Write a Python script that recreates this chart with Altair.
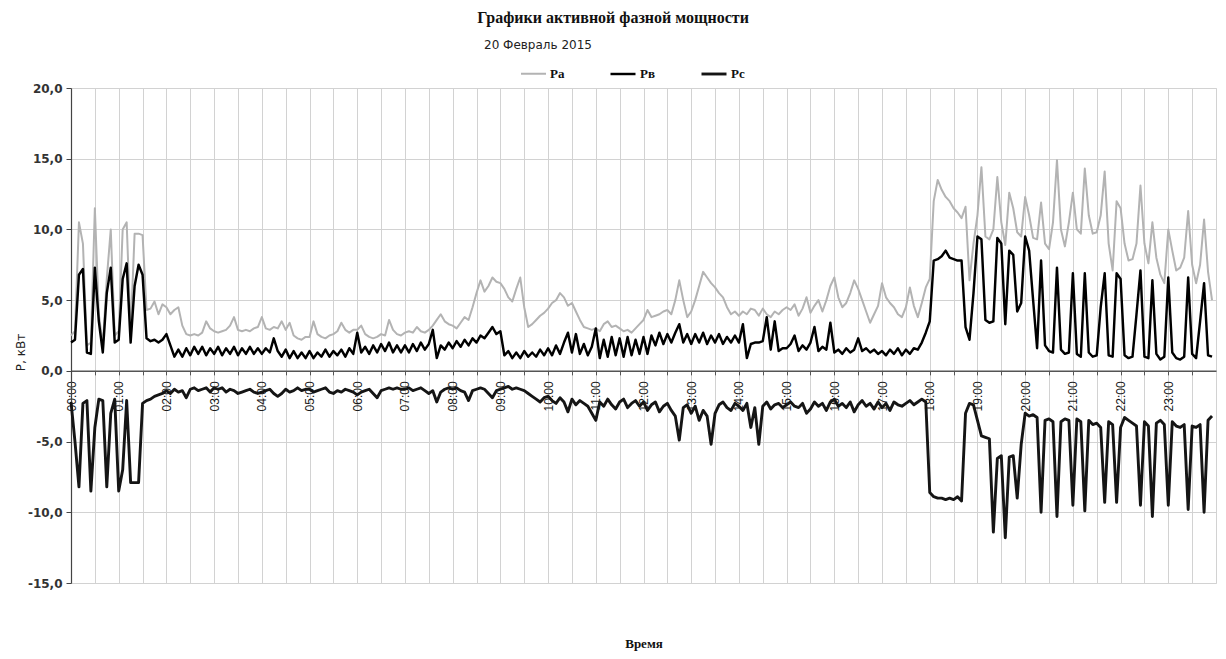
import altair as alt
import pandas as pd

SERIES = ["Pa", "Pв", "Pc"]
COLORS = ["#b3b3b3", "#000000", "#151515"]
STEP_MIN = 5  # one reading every 5 minutes, 12 per hour row

# Pa, kW (grey) - one row per hour
pa_hourly = [
    [2.5, 2.8, 10.5, 9.0, 1.8, 2.0, 11.5, 4.0, 1.8, 6.5, 10.0, 2.5],
    [2.8, 10.0, 10.5, 2.8, 9.7, 9.7, 9.6, 4.3, 4.4, 4.9, 4.0, 4.7],
    [4.5, 4.0, 4.3, 4.5, 3.2, 2.6, 2.5, 2.6, 2.5, 2.7, 3.5, 3.0],
    [2.8, 2.7, 2.8, 2.9, 3.2, 3.8, 2.9, 2.8, 2.9, 2.8, 3.0, 3.1],
    [3.8, 3.0, 2.9, 3.1, 3.0, 3.5, 2.9, 3.4, 2.5, 2.3, 2.2, 2.4],
    [2.4, 3.5, 2.6, 2.4, 2.3, 2.5, 2.6, 2.8, 3.4, 2.9, 2.7, 2.9],
    [2.9, 3.2, 2.6, 2.4, 2.3, 2.4, 2.6, 2.5, 3.6, 2.9, 2.6, 2.5],
    [2.7, 2.8, 2.7, 3.1, 2.8, 2.7, 2.9, 3.2, 3.6, 4.0, 3.5, 3.3],
    [3.2, 3.0, 3.4, 3.8, 3.6, 4.5, 5.5, 6.4, 5.6, 6.0, 6.6, 6.3],
    [6.2, 5.8, 5.2, 4.9, 5.8, 6.6, 4.5, 3.1, 3.3, 3.6, 3.9, 4.1],
    [4.4, 4.8, 5.0, 5.5, 5.2, 4.6, 4.8, 4.2, 3.6, 3.1, 3.0, 2.9],
    [3.0, 2.8, 3.3, 3.5, 3.1, 3.2, 3.0, 2.8, 2.9, 2.7, 3.0, 3.3],
    [3.6, 4.3, 3.8, 3.9, 4.0, 4.2, 4.3, 4.0, 5.0, 6.4, 5.0, 3.8],
    [4.2, 5.0, 6.0, 7.0, 6.6, 6.2, 5.9, 5.5, 5.2, 4.5, 4.0, 4.2],
    [3.9, 4.2, 4.0, 4.4, 4.3, 3.9, 4.4, 4.0, 3.8, 4.2, 4.0, 4.3],
    [4.5, 4.3, 4.7, 3.9, 4.4, 5.2, 4.1, 4.6, 5.0, 4.2, 5.0, 6.0],
    [6.6, 5.2, 4.5, 4.8, 5.5, 6.4, 5.8, 5.0, 4.2, 3.4, 4.0, 4.6],
    [6.2, 5.2, 4.8, 4.5, 4.0, 3.8, 4.5, 5.9, 4.6, 3.8, 4.8, 5.9],
    [6.5, 12.0, 13.5, 12.8, 12.3, 12.0, 11.5, 11.2, 10.8, 11.6, 6.4, 9.0],
    [11.0, 14.4, 9.5, 9.3, 10.0, 13.7, 10.5, 8.9, 12.6, 11.5, 9.8, 9.5],
    [12.3, 11.0, 9.4, 9.3, 11.9, 9.0, 8.6, 10.5, 14.9, 10.0, 8.8, 10.5],
    [12.6, 10.0, 9.7, 14.3, 11.0, 9.7, 9.8, 11.0, 14.1, 9.0, 7.1, 12.0],
    [11.5, 9.0, 7.8, 7.9, 9.0, 13.1, 9.0, 7.6, 10.5, 8.0, 6.8, 6.2],
    [10.0, 8.5, 7.1, 7.3, 8.0, 11.3, 7.5, 6.2, 7.5, 10.7, 7.0, 5.0],
]

# Pв, kW (black, positive)
pb_hourly = [
    [2.0, 2.2, 6.8, 7.2, 1.3, 1.2, 7.3, 3.5, 1.3, 5.5, 7.3, 2.0],
    [2.2, 6.5, 7.6, 2.0, 6.0, 7.5, 6.8, 2.3, 2.1, 2.2, 2.0, 2.2],
    [2.6, 1.8, 1.0, 1.5, 1.0, 1.6, 1.1, 1.7, 1.2, 1.7, 1.1, 1.6],
    [1.2, 1.7, 1.1, 1.6, 1.2, 1.7, 1.1, 1.6, 1.2, 1.7, 1.2, 1.6],
    [1.2, 1.6, 1.3, 2.3, 1.4, 1.0, 1.5, 0.9, 1.4, 0.9, 1.3, 0.9],
    [1.4, 0.9, 1.3, 1.0, 1.5, 1.0, 1.4, 1.1, 1.5, 1.0, 1.6, 1.2],
    [2.7, 1.3, 1.7, 1.2, 1.8, 1.3, 1.9, 1.4, 2.0, 1.3, 1.8, 1.3],
    [1.8, 1.3, 1.9, 1.4, 2.0, 1.5, 1.9, 2.9, 0.9, 1.8, 1.5, 2.0],
    [1.6, 2.1, 1.7, 2.2, 1.8, 2.3, 2.0, 2.5, 2.3, 2.7, 3.1, 2.6],
    [2.8, 1.1, 1.4, 0.9, 1.3, 0.9, 1.4, 1.0, 1.3, 1.0, 1.5, 1.1],
    [1.6, 1.1, 1.8, 1.2, 2.0, 2.7, 1.3, 2.6, 1.2, 1.9, 1.1, 1.7],
    [3.0, 0.9, 2.2, 1.0, 2.4, 1.1, 2.3, 1.0, 2.4, 1.1, 2.2, 1.2],
    [2.4, 1.2, 2.5, 1.8, 2.7, 1.9, 2.6, 2.0, 2.7, 3.3, 2.0, 2.6],
    [1.9, 2.6, 2.0, 2.7, 1.9, 2.5, 2.0, 2.6, 1.9, 2.4, 2.0, 2.5],
    [2.0, 3.3, 0.9, 1.9, 2.0, 2.0, 2.1, 3.8, 1.5, 3.5, 1.4, 1.6],
    [1.6, 1.9, 2.5, 1.4, 1.8, 1.5, 2.0, 3.1, 1.4, 1.7, 1.5, 3.4],
    [1.3, 1.5, 1.2, 1.6, 1.3, 1.5, 2.3, 1.4, 1.6, 1.3, 1.5, 1.2],
    [1.4, 1.1, 1.5, 1.2, 1.6, 1.1, 1.5, 1.2, 1.6, 1.5, 2.0, 2.7],
    [3.5, 7.8, 7.9, 8.1, 8.5, 8.0, 7.9, 7.8, 7.8, 3.1, 2.2, 5.5],
    [9.5, 9.3, 3.6, 3.4, 3.5, 9.4, 9.0, 3.3, 8.5, 8.2, 4.2, 4.8],
    [9.5, 8.5, 5.0, 1.6, 7.8, 1.8, 1.4, 1.3, 7.3, 1.5, 1.2, 1.3],
    [6.9, 1.2, 1.0, 6.9, 1.3, 1.0, 1.1, 4.5, 6.9, 1.1, 1.0, 6.9],
    [6.5, 1.1, 0.9, 1.0, 4.0, 7.1, 1.0, 0.9, 6.4, 1.2, 0.8, 1.0],
    [6.6, 1.3, 0.9, 0.8, 1.0, 6.6, 1.2, 0.9, 3.5, 6.2, 1.1, 1.0],
]

# Pc, kW (black, negative)
pc_hourly = [
    [-2.2, -5.0, -8.2, -2.3, -2.1, -8.5, -4.0, -2.0, -2.1, -8.2, -3.0, -2.0],
    [-8.5, -7.0, -2.1, -7.9, -7.9, -7.9, -2.3, -2.1, -2.0, -1.8, -1.7, -1.6],
    [-1.4, -1.6, -1.3, -1.5, -1.4, -1.9, -1.3, -1.2, -1.4, -1.3, -1.2, -1.5],
    [-1.2, -1.3, -1.2, -1.5, -1.3, -1.4, -1.6, -1.5, -1.4, -1.3, -1.5, -1.6],
    [-1.5, -1.4, -1.3, -1.6, -1.8, -1.6, -1.3, -1.5, -1.4, -1.2, -1.4, -1.3],
    [-1.3, -1.5, -1.4, -1.3, -1.2, -1.5, -1.6, -1.4, -1.5, -1.3, -1.4, -1.5],
    [-1.7, -1.5, -1.4, -1.3, -1.6, -1.9, -1.4, -1.3, -1.2, -1.3, -1.2, -1.3],
    [-1.3, -1.2, -1.4, -1.3, -1.2, -1.4, -1.6, -1.4, -2.2, -1.5, -1.3, -1.2],
    [-1.3, -1.2, -1.4, -1.5, -2.1, -1.4, -1.3, -1.2, -1.3, -1.6, -1.9, -1.4],
    [-1.3, -1.2, -1.1, -1.3, -1.2, -1.3, -1.4, -1.6, -1.8, -2.0, -2.2, -1.9],
    [-1.8, -2.1, -2.3, -1.9, -2.2, -2.9, -2.0, -2.4, -2.1, -2.3, -2.5, -3.0],
    [-3.5, -2.2, -2.5, -2.0, -2.4, -2.7, -2.2, -2.0, -2.6, -2.3, -2.1, -2.5],
    [-2.2, -2.8, -2.4, -2.2, -2.9, -2.5, -2.3, -2.8, -3.2, -4.9, -2.6, -2.4],
    [-3.0, -2.5, -3.5, -2.8, -3.2, -5.2, -3.0, -2.4, -2.2, -2.6, -2.8, -2.3],
    [-2.5, -2.8, -2.3, -4.0, -2.6, -5.2, -2.5, -2.2, -2.7, -2.4, -2.3, -2.6],
    [-2.4, -2.2, -2.5, -2.6, -2.3, -3.0, -2.7, -2.2, -2.5, -2.3, -2.8, -2.2],
    [-2.0, -2.5, -2.3, -2.6, -2.2, -2.9, -2.4, -2.1, -2.5, -2.3, -2.7, -2.2],
    [-2.6, -2.3, -2.8, -2.2, -2.4, -2.5, -2.3, -2.1, -2.4, -2.2, -2.0, -2.2],
    [-8.6, -8.9, -9.0, -9.0, -9.1, -9.0, -9.1, -8.9, -9.2, -3.0, -2.3, -2.4],
    [-3.5, -4.6, -4.7, -4.8, -11.4, -6.2, -6.0, -11.8, -6.1, -6.0, -9.0, -5.2],
    [-3.0, -3.2, -3.1, -3.3, -10.0, -3.5, -3.4, -3.6, -10.3, -3.6, -3.4, -3.5],
    [-9.5, -3.4, -3.6, -9.9, -3.5, -3.8, -3.7, -4.0, -9.3, -3.6, -3.8, -9.3],
    [-4.0, -3.3, -3.5, -3.7, -3.9, -9.5, -3.6, -3.9, -10.3, -3.7, -3.5, -3.8],
    [-9.5, -3.6, -3.9, -4.0, -3.8, -9.8, -3.9, -4.0, -3.8, -10.0, -3.5, -3.2],
]

Y_TICKS = [-15, -10, -5, 0, 5, 10, 15, 20]
TITLE = "Графики активной фазной мощности"
SUBTITLE = "20 Февраль 2015"
X_TITLE = "Время"
Y_TITLE = "P, кВт"


def flat(rows):
    return [v for r in rows for v in r]


pa, pb, pc = flat(pa_hourly), flat(pb_hourly), flat(pc_hourly)
n = len(pa)
t = [i * STEP_MIN / 60 for i in range(n)]
df = pd.DataFrame({
    "t": t * 3,
    "v": pa + pb + pc,
    "s": [SERIES[0]] * n + [SERIES[1]] * n + [SERIES[2]] * n,
})

W, H = 1145, 495
y_min, y_max = -15, 20
zero_from_top = H * y_max / (y_max - y_min)
x_axis_offset = -(H - zero_from_top)

half_hours = [i / 2 for i in range(48)]
grid_vals = [i / 2 for i in range(49)]

xs = alt.Scale(domain=[0, 24], nice=False, zero=False)
ys = alt.Scale(domain=[y_min, y_max], nice=False, zero=False)

grid_layer = alt.Chart(df).mark_line(opacity=0).encode(
    x=alt.X("t:Q", scale=xs, axis=alt.Axis(
        orient="top", values=grid_vals, grid=True, gridColor="#d2d2d2",
        gridWidth=1, labels=False, ticks=False, domain=False, title=None)),
    y=alt.Y("v:Q", scale=ys, axis=None),
    detail="s:N",
)

lines = alt.Chart(df).mark_line(interpolate="linear", strokeJoin="round").encode(
    x=alt.X("t:Q", scale=xs, axis=alt.Axis(
        orient="bottom", offset=x_axis_offset, values=half_hours, grid=False,
        labelExpr="datum.value % 1 == 0 ? ((datum.value < 10 ? '0' : '') + datum.value + ':00') : ''",
        labelAngle=270, labelFont="Liberation Sans", labelFontSize=12,
        labelColor="#1a1a1a", labelPadding=6, labelOverlap=False, labelFlush=False,
        tickSize=4, tickColor="#555555", domainColor="#555555", domainWidth=1.5,
        title=X_TITLE, titleFont="Liberation Serif", titleFontWeight="bold",
        titleFontSize=13, titleColor="#111111", titleX=W / 2,
        titleY=H - zero_from_top + 60, titleBaseline="middle", titleAngle=0)),
    y=alt.Y("v:Q", scale=ys, axis=alt.Axis(
        values=Y_TICKS, grid=True, gridColor="#d2d2d2", gridWidth=1,
        labelExpr="(datum.value < 0 ? '-' : '') + replace(format(abs(datum.value), '.1f'), '.', ',')",
        labelFont="DejaVu Sans", labelFontWeight="bold", labelFontSize=12,
        labelColor="#333333", labelPadding=4, tickSize=5, tickColor="#444444",
        domainColor="#444444", domainWidth=1.2,
        title=Y_TITLE, titleFont="DejaVu Sans", titleFontSize=12,
        titleFontWeight="normal", titleColor="#222222", titleAngle=270,
        titleX=-51, titleY=264, titleAlign="center", titleBaseline="middle")),
    color=alt.Color("s:N", scale=alt.Scale(domain=SERIES, range=COLORS),
                    legend=alt.Legend(
                        orient="none", legendX=449, legendY=-28,
                        direction="horizontal", title=None,
                        symbolType="stroke", symbolSize=625,
                        symbolStrokeWidth=2.5, labelFont="Liberation Serif",
                        labelFontWeight="bold", labelFontSize=13,
                        labelColor="#111111", labelOffset=3,
                        columnPadding=40, padding=0)),
    strokeWidth=alt.StrokeWidth("s:N", scale=alt.Scale(domain=SERIES, range=[2.0, 2.9, 2.9]),
                                legend=None),
)

title_text = alt.Chart(pd.DataFrame({"text": [TITLE]})).mark_text(
    font="Liberation Serif", fontWeight="bold", fontSize=16, align="center",
    baseline="middle", color="#111111",
).encode(x=alt.value(542), y=alt.value(-70), text="text:N")

sub_text = alt.Chart(pd.DataFrame({"text": [SUBTITLE]})).mark_text(
    font="DejaVu Sans", fontSize=12, align="left", baseline="middle", color="#222222",
).encode(x=alt.value(413), y=alt.value(-43), text="text:N")

chart = alt.layer(grid_layer, lines, title_text, sub_text).resolve_axis(
    x="independent", y="independent"
).properties(
    width=W, height=H,
    autosize=alt.AutoSizeParams(type="none"),
    padding={"left": 63, "right": 2, "top": 80, "bottom": 68},
).configure_view(stroke="transparent").configure(background="white")

chart.save("out.html", embed_options={"renderer": "svg", "actions": False})
